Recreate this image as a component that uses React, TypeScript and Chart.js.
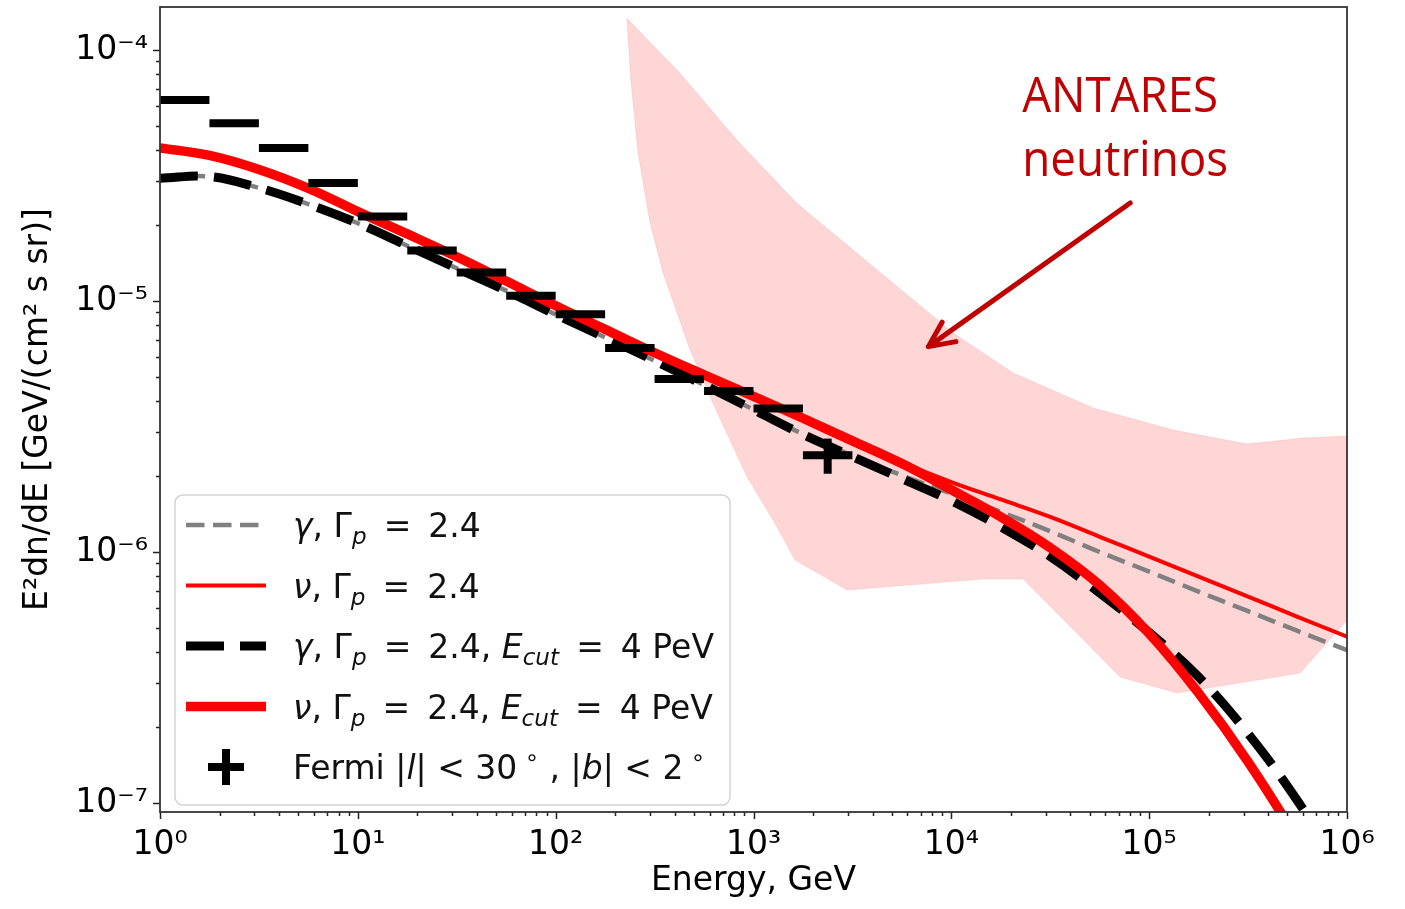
import React, { useEffect, useRef } from 'react';
import { Chart, registerables } from 'chart.js';

Chart.register(...registerables);

const FONT = '"DejaVu Sans", "Liberation Sans", sans-serif';

// ---------- axes ----------
const X_MIN = 1;
const X_MAX = 1e6;
const Y_MIN = 9.21e-8;
const Y_MAX = 1.483e-4;
const X_TICKS = [1, 10, 100, 1000, 1e4, 1e5, 1e6];
const X_TICK_LABELS = ['10⁰', '10¹', '10²', '10³', '10⁴', '10⁵', '10⁶'];
const Y_TICKS = [1e-7, 1e-6, 1e-5, 1e-4];
const Y_TICK_LABELS = ['10⁻⁷', '10⁻⁶', '10⁻⁵', '10⁻⁴'];
const X_TITLE = 'Energy, GeV';
const Y_TITLE = 'E²dn/dE [GeV/(cm² s sr)]';

// ---------- model curves (energy in GeV, flux in GeV/(cm2 s sr)) ----------
const ENERGY = [1, 1.778, 3.162, 5.623, 10, 17.78, 31.62, 56.23, 100, 177.8, 316.2, 562.3, 1000, 1778, 3162, 5623, 1e4, 1.778e4, 3.162e4, 5.623e4, 1e5, 1.778e5, 3.162e5, 5.623e5, 1e6];
const GAMMA = [3.08e-5, 3.13e-5, 2.82e-5, 2.43e-5, 2.04e-5, 1.66e-5, 1.35e-5, 1.10e-5, 8.83e-6, 7.16e-6, 5.78e-6, 4.63e-6, 3.69e-6, 2.95e-6, 2.42e-6, 2.02e-6, 1.71e-6, 1.445e-6, 1.21e-6, 1.00e-6, 8.36e-7, 6.95e-7, 5.81e-7, 4.85e-7, 4.06e-7];
const NU = [4.07e-5, 3.80e-5, 3.34e-5, 2.81e-5, 2.27e-5, 1.85e-5, 1.50e-5, 1.20e-5, 9.57e-6, 7.71e-6, 6.22e-6, 5.08e-6, 4.17e-6, 3.41e-6, 2.77e-6, 2.27e-6, 1.90e-6, 1.62e-6, 1.38e-6, 1.15e-6, 9.59e-7, 7.98e-7, 6.64e-7, 5.52e-7, 4.60e-7];
const GAMMA_CUT = [3.08e-5, 3.13e-5, 2.82e-5, 2.43e-5, 2.04e-5, 1.66e-5, 1.35e-5, 1.10e-5, 8.83e-6, 7.16e-6, 5.78e-6, 4.63e-6, 3.69e-6, 2.94e-6, 2.40e-6, 1.96e-6, 1.60e-6, 1.26e-6, 9.59e-7, 6.87e-7, 4.78e-7, 3.18e-7, 1.89e-7, 1.02e-7, 5.0e-8];
const NU_CUT = [4.07e-5, 3.80e-5, 3.34e-5, 2.81e-5, 2.27e-5, 1.85e-5, 1.50e-5, 1.20e-5, 9.57e-6, 7.71e-6, 6.22e-6, 5.08e-6, 4.17e-6, 3.41e-6, 2.77e-6, 2.25e-6, 1.77e-6, 1.38e-6, 1.04e-6, 7.38e-7, 4.73e-7, 2.74e-7, 1.46e-7, 7.08e-8, 3.0e-8];

// ---------- Fermi |l|<30, |b|<2 ----------
const FERMI_E_LO = [1, 1.778, 3.162, 5.623, 10, 17.78, 31.62, 56.23, 100, 177.8, 316.2, 562.3, 1000, 1778];
const FERMI_E_HI = [1.778, 3.162, 5.623, 10, 17.78, 31.62, 56.23, 100, 177.8, 316.2, 562.3, 1000, 1778, 3162];
const FERMI_FLUX = [6.32e-5, 5.11e-5, 4.07e-5, 2.95e-5, 2.17e-5, 1.59e-5, 1.30e-5, 1.05e-5, 8.85e-6, 6.49e-6, 4.89e-6, 4.38e-6, 3.73e-6, 2.43e-6];
const FERMI_FLUX_LOW = [6.32e-5, 5.11e-5, 4.07e-5, 2.95e-5, 2.17e-5, 1.59e-5, 1.30e-5, 1.05e-5, 8.85e-6, 6.49e-6, 4.89e-6, 4.38e-6, 3.73e-6, 2.05e-6];
const FERMI_FLUX_HIGH = [6.32e-5, 5.11e-5, 4.07e-5, 2.95e-5, 2.17e-5, 1.59e-5, 1.30e-5, 1.05e-5, 8.85e-6, 6.49e-6, 4.89e-6, 4.38e-6, 3.73e-6, 2.83e-6];

// ---------- ANTARES neutrino band ----------
const BAND_UP_E = [228.8, 425.6, 823.4, 1656, 10210, 20530, 52110, 132200, 312900, 600500, 1e6];
const BAND_UP_F = [1.337e-4, 8.08e-5, 4.38e-5, 2.449e-5, 7.46e-6, 5.165e-6, 3.748e-6, 3.062e-6, 2.693e-6, 2.845e-6, 2.898e-6];
const BAND_LO_E = [228.8, 233.5, 240.0, 260.9, 300.0, 349.1, 478.2, 603.4, 928.4, 1256, 1623, 2974, 14480, 23070, 71380, 138600, 580000, 1e6];
const BAND_LO_F = [1.337e-4, 1.05e-4, 7.6e-5, 3.887e-5, 2.05e-5, 1.293e-5, 6.378e-6, 4.144e-6, 1.99e-6, 1.341e-6, 9.29e-7, 7.06e-7, 7.8e-7, 7.8e-7, 3.177e-7, 2.743e-7, 3.295e-7, 5.358e-7];

// ---------- annotation ----------
const ANNOT_LINES = ['ANTARES', 'neutrinos'];
const ANNOT_E = 22800;
const ANNOT_F = [5.66e-5, 3.15e-5];
const ANNOT_WIDTHS = [196, 206];
const ARROW_FROM = [80170, 2.457e-5];
const ARROW_TO = [7656, 6.58e-6];
const ANNOT_COLOR = '#c00000';

// ---------- legend ----------
type Run = { t: string; it?: boolean; sub?: boolean; sup?: boolean };
const EQ = '\u2009=\u2009';
const LEGEND_LABELS: Run[][] = [
  [{ t: 'γ', it: true }, { t: ', ' }, { t: 'Γ' }, { t: 'p', it: true, sub: true }, { t: ` ${EQ} 2.4` }],
  [{ t: 'ν', it: true }, { t: ', ' }, { t: 'Γ' }, { t: 'p', it: true, sub: true }, { t: ` ${EQ} 2.4` }],
  [{ t: 'γ', it: true }, { t: ', ' }, { t: 'Γ' }, { t: 'p', it: true, sub: true }, { t: ` ${EQ} 2.4, ` }, { t: 'E', it: true }, { t: 'cut', it: true, sub: true }, { t: ` ${EQ} 4 PeV` }],
  [{ t: 'ν', it: true }, { t: ', ' }, { t: 'Γ' }, { t: 'p', it: true, sub: true }, { t: ` ${EQ} 2.4, ` }, { t: 'E', it: true }, { t: 'cut', it: true, sub: true }, { t: ` ${EQ} 4 PeV` }],
  [{ t: 'Fermi |' }, { t: 'l', it: true }, { t: '| < 30' }, { t: ' ∘', sup: true }, { t: ' , |' }, { t: 'b', it: true }, { t: '| < 2' }, { t: ' ∘', sup: true }],
];

function drawRuns(ctx: CanvasRenderingContext2D, runs: Run[], x: number, baseline: number, size: number) {
  let cx = x;
  for (const r of runs) {
    const s = r.sub || r.sup ? size * 0.7 : size;
    ctx.font = `${r.it ? 'italic ' : ''}${s}px ${FONT}`;
    const dy = r.sub ? size * 0.22 : r.sup ? -size * 0.42 : 0;
    ctx.fillText(r.t, cx, baseline + dy);
    cx += ctx.measureText(r.t).width;
  }
}

const pts = (xs: number[], ys: (number | null)[]) => xs.map((x, i) => ({ x, y: ys[i] }));

export default function App() {
  const ref = useRef<HTMLCanvasElement>(null);

  useEffect(() => {
    const canvas = ref.current;
    if (!canvas) return;

    const fermiData: { x: number; y: number | null }[] = [];
    const fermiErr: { x: number; y: number | null }[] = [];
    FERMI_E_LO.forEach((lo, i) => {
      const hi = FERMI_E_HI[i];
      fermiData.push({ x: lo, y: FERMI_FLUX[i] }, { x: hi, y: FERMI_FLUX[i] }, { x: hi, y: null });
      const c = Math.sqrt(lo * hi);
      fermiErr.push({ x: c, y: FERMI_FLUX_LOW[i] }, { x: c, y: FERMI_FLUX_HIGH[i] }, { x: c, y: null });
    });

    const overlay = {
      id: 'overlay',
      afterDatasetsDraw(chart: any) {
        const { ctx, chartArea: a, scales } = chart;
        const xs = scales.x;
        const ys = scales.y;
        ctx.save();
        // ticks
        ctx.strokeStyle = '#222';
        ctx.lineWidth = 1.5;
        ctx.beginPath();
        for (let e = 0; e <= 6; e++) {
          for (let m = 1; m <= 9; m++) {
            const v = m * Math.pow(10, e);
            if (v < X_MIN || v > X_MAX * 1.0001) continue;
            const px = Math.round(xs.getPixelForValue(v)) + 0.5;
            const len = m === 1 ? 7 : 4;
            ctx.moveTo(px, a.bottom);
            ctx.lineTo(px, a.bottom + len);
          }
        }
        for (let e = -8; e <= -4; e++) {
          for (let m = 1; m <= 9; m++) {
            const v = m * Math.pow(10, e);
            if (v < Y_MIN || v > Y_MAX) continue;
            const py = Math.round(ys.getPixelForValue(v)) + 0.5;
            const len = m === 1 ? 7 : 4;
            ctx.moveTo(a.left, py);
            ctx.lineTo(a.left - len, py);
          }
        }
        ctx.stroke();
        // frame
        ctx.strokeStyle = '#333';
        ctx.lineWidth = 1.8;
        ctx.strokeRect(a.left, a.top, a.right - a.left, a.bottom - a.top);

        // annotation
        ctx.fillStyle = ANNOT_COLOR;
        ctx.textBaseline = 'alphabetic';
        ctx.font = '49px "Open Sans", "Lato", sans-serif';
        ANNOT_LINES.forEach((t, i) => {
          const w = ctx.measureText(t).width;
          const x = xs.getPixelForValue(ANNOT_E);
          const y = ys.getPixelForValue(ANNOT_F[i]);
          ctx.save();
          ctx.translate(x, y);
          ctx.scale(ANNOT_WIDTHS[i] / w, 1);
          ctx.fillText(t, 0, 0);
          ctx.restore();
        });
        const x0 = xs.getPixelForValue(ARROW_FROM[0]);
        const y0 = ys.getPixelForValue(ARROW_FROM[1]);
        const x1 = xs.getPixelForValue(ARROW_TO[0]);
        const y1 = ys.getPixelForValue(ARROW_TO[1]);
        ctx.strokeStyle = ANNOT_COLOR;
        ctx.lineWidth = 5;
        ctx.lineCap = 'round';
        ctx.lineJoin = 'round';
        ctx.beginPath();
        ctx.moveTo(x0, y0);
        ctx.lineTo(x1, y1);
        const ang = Math.atan2(y0 - y1, x0 - x1);
        ctx.moveTo(x1 + 28 * Math.cos(ang - 0.44), y1 + 28 * Math.sin(ang - 0.44));
        ctx.lineTo(x1, y1);
        ctx.lineTo(x1 + 28 * Math.cos(ang + 0.44), y1 + 28 * Math.sin(ang + 0.44));
        ctx.stroke();

        // legend
        const L = { left: 175, top: 495, right: 730, bottom: 805, h0: 186, h1: 266, tx: 293, row0: 525, gap: 60.5, r: 8 };
        ctx.beginPath();
        ctx.moveTo(L.left + L.r, L.top);
        ctx.arcTo(L.right, L.top, L.right, L.bottom, L.r);
        ctx.arcTo(L.right, L.bottom, L.left, L.bottom, L.r);
        ctx.arcTo(L.left, L.bottom, L.left, L.top, L.r);
        ctx.arcTo(L.left, L.top, L.right, L.top, L.r);
        ctx.closePath();
        ctx.fillStyle = 'rgba(255,255,255,0.8)';
        ctx.fill();
        ctx.strokeStyle = '#d3d3d3';
        ctx.lineWidth = 1.5;
        ctx.stroke();

        const ds = chart.data.datasets;
        ctx.lineCap = 'butt';
        for (let i = 0; i < 4; i++) {
          const d = ds[2 + i];
          const y = L.row0 + i * L.gap;
          ctx.strokeStyle = d.borderColor;
          ctx.lineWidth = d.borderWidth;
          ctx.setLineDash(d.borderDash || []);
          ctx.beginPath();
          ctx.moveTo(L.h0, y);
          ctx.lineTo(L.h1, y);
          ctx.stroke();
        }
        ctx.setLineDash([]);
        const yp = L.row0 + 4 * L.gap;
        const cxp = (L.h0 + L.h1) / 2;
        ctx.strokeStyle = '#000';
        ctx.lineWidth = 8;
        ctx.beginPath();
        ctx.moveTo(cxp - 18, yp);
        ctx.lineTo(cxp + 18, yp);
        ctx.moveTo(cxp, yp - 18);
        ctx.lineTo(cxp, yp + 18);
        ctx.stroke();

        ctx.fillStyle = '#111';
        LEGEND_LABELS.forEach((runs, i) => {
          drawRuns(ctx, runs, L.tx, L.row0 + i * L.gap + 12, 33);
        });
        ctx.restore();
      },
    };

    const line = (extra: any) => ({
      pointRadius: 0,
      pointHoverRadius: 0,
      fill: false,
      clip: 0,
      borderCapStyle: 'butt',
      ...extra,
    });

    const chart = new Chart(canvas, {
      type: 'line',
      data: {
        datasets: [
          line({
            label: 'ANTARES upper',
            data: pts(BAND_UP_E, BAND_UP_F),
            borderColor: 'rgba(255,0,0,0.10)',
            borderWidth: 1,
            backgroundColor: 'rgba(255,0,0,0.16)',
            fill: '+1',
            tension: 0,
            order: 10,
          }),
          line({
            label: 'ANTARES lower',
            data: pts(BAND_LO_E, BAND_LO_F),
            borderColor: 'rgba(255,0,0,0.10)',
            borderWidth: 1,
            tension: 0,
            order: 10,
          }),
          line({
            label: 'γ, Γp = 2.4',
            data: pts(ENERGY, GAMMA),
            borderColor: '#808080',
            borderWidth: 4.5,
            borderDash: [18.5, 8.5],
            tension: 0.4,
            order: 5,
          }),
          line({
            label: 'ν, Γp = 2.4',
            data: pts(ENERGY, NU),
            borderColor: '#ff0000',
            borderWidth: 4,
            tension: 0.4,
            order: 4,
          }),
          line({
            label: 'γ, Γp = 2.4, Ecut = 4 PeV',
            data: pts(ENERGY, GAMMA_CUT),
            borderColor: '#000000',
            borderWidth: 9,
            borderDash: [38, 16],
            tension: 0.4,
            order: 3,
          }),
          line({
            label: 'ν, Γp = 2.4, Ecut = 4 PeV',
            data: pts(ENERGY, NU_CUT),
            borderColor: '#ff0000',
            borderWidth: 9.5,
            tension: 0.4,
            order: 2,
          }),
          line({
            label: 'Fermi |l| < 30°, |b| < 2°',
            data: fermiData,
            borderColor: '#000000',
            borderWidth: 8,
            spanGaps: false,
            tension: 0,
            order: 1,
          }),
          line({
            label: 'Fermi errors',
            data: fermiErr,
            borderColor: '#000000',
            borderWidth: 8,
            spanGaps: false,
            tension: 0,
            order: 1,
          }),
        ],
      },
      options: {
        responsive: false,
        animation: false,
        devicePixelRatio: 1,
        events: [],
        layout: { padding: { left: 0, right: 58, top: 7, bottom: 0 } },
        plugins: {
          legend: { display: false },
          tooltip: { enabled: false },
        },
        scales: {
          x: {
            type: 'logarithmic',
            min: X_MIN,
            max: X_MAX,
            grid: { display: false, drawTicks: false },
            border: { display: false },
            ticks: {
              autoSkip: false,
              maxRotation: 0,
              minRotation: 0,
              padding: 14,
              color: '#000',
              font: { family: FONT, size: 33 },
              callback: (_v: any, i: number) => X_TICK_LABELS[i],
            },
            afterBuildTicks: (s: any) => {
              s.ticks = X_TICKS.map((v) => ({ value: v }));
            },
            afterFit: (s: any) => {
              s.height = 97;
              s.paddingLeft = 0;
              s.paddingRight = 0;
            },
            title: {
              display: true,
              text: X_TITLE,
              color: '#000',
              font: { family: FONT, size: 33 },
              padding: { top: 0, bottom: 8 },
            },
          },
          y: {
            type: 'logarithmic',
            min: Y_MIN,
            max: Y_MAX,
            grid: { display: false, drawTicks: false },
            border: { display: false },
            ticks: {
              autoSkip: false,
              padding: 12,
              color: '#000',
              font: { family: FONT, size: 33 },
              callback: (_v: any, i: number) => Y_TICK_LABELS[i],
            },
            afterBuildTicks: (s: any) => {
              s.ticks = Y_TICKS.map((v) => ({ value: v }));
            },
            afterFit: (s: any) => {
              s.width = 160;
              s.paddingTop = 0;
              s.paddingBottom = 0;
            },
            title: {
              display: true,
              text: Y_TITLE,
              color: '#000',
              font: { family: FONT, size: 33 },
              padding: { top: 19, bottom: 0 },
            },
          },
        },
      } as any,
      plugins: [overlay],
    } as any);

    return () => chart.destroy();
  }, []);

  return (
    <div style={{ position: 'absolute', left: 0, top: 0, width: 1405, height: 909, background: '#fff' }}>
      <canvas ref={ref} width={1405} height={909} style={{ display: 'block', width: 1405, height: 909 }} />
    </div>
  );
}
